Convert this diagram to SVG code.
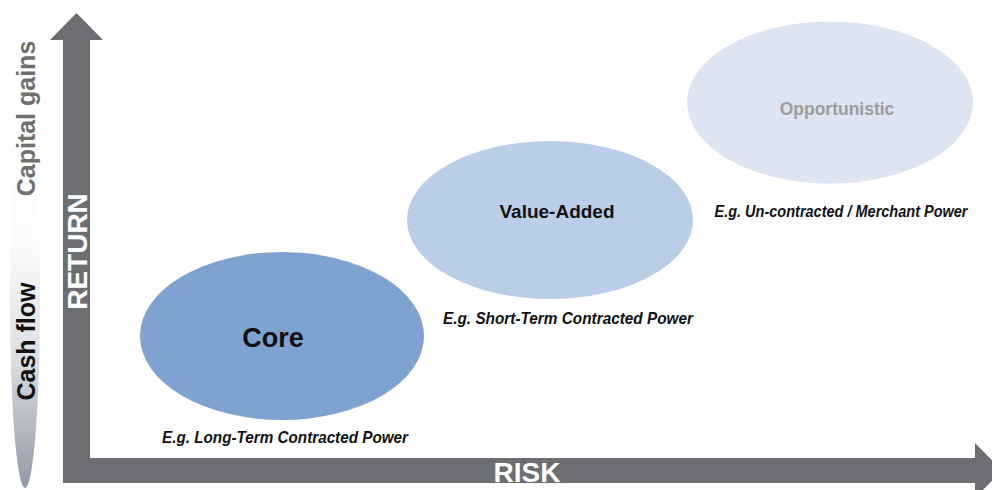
<svg xmlns="http://www.w3.org/2000/svg" width="992" height="490" viewBox="0 0 992 490">
  <defs>
    <linearGradient id="sideGrad" x1="0" y1="0" x2="0" y2="1">
      <stop offset="0" stop-color="#ffffff"/>
      <stop offset="0.35" stop-color="#fbfbfb"/>
      <stop offset="0.65" stop-color="#dcdfe5"/>
      <stop offset="1" stop-color="#9398a6"/>
    </linearGradient>
    <style>
      .axis { fill: #6d6e71; }
      .axisLabel { font-family: "Liberation Sans", Arial, sans-serif; font-weight: bold; fill: #ffffff; font-size: 28px; text-anchor: middle; }
      .side { font-family: "Liberation Sans", Arial, sans-serif; font-weight: bold; font-size: 25px; text-anchor: middle; }
      .title { font-family: "Liberation Sans", Arial, sans-serif; font-weight: bold; text-anchor: middle; }
      .eg { font-family: "Liberation Sans", Arial, sans-serif; font-weight: bold; font-style: italic; font-size: 17px; fill: #111111; text-anchor: middle; }
    </style>
  </defs>
  <rect width="992" height="490" fill="#ffffff"/>

  <g id="side-scale">
    <ellipse cx="25" cy="300" rx="15" ry="188" fill="url(#sideGrad)"/>
    <text class="side" fill="#6f6f70" transform="translate(35,118.5) rotate(-90)">Capital gains</text>
    <text class="side" fill="#111111" transform="translate(35,341.5) rotate(-90)">Cash flow</text>
  </g>

  <g id="axes">
    <path class="axis" d="M63,483 L63,40 L50,40 L76.5,13 L103,40 L90,40 L90,458 L975,458 L975,443 L1002,470.5 L975,498 L975,483 Z"/>
    <text class="axisLabel" transform="translate(87,251.5) rotate(-90)">RETURN</text>
    <text class="axisLabel" x="527" y="482">RISK</text>
  </g>

  <g id="opportunistic">
    <ellipse cx="830" cy="102.5" rx="143" ry="81" fill="#dde5f2"/>
    <text class="title" x="837" y="115" font-size="17.5" fill="#9c9c9c">Opportunistic</text>
    <text class="eg" x="841" y="217" font-size="16" textLength="253" lengthAdjust="spacingAndGlyphs" style="font-size:16px">E.g. Un-contracted / Merchant Power</text>
  </g>

  <g id="value-added">
    <ellipse cx="550" cy="220" rx="143" ry="79" fill="#bacee7"/>
    <text class="title" x="557" y="218" font-size="19" fill="#111111">Value-Added</text>
    <text class="eg" x="568" y="324" textLength="250" lengthAdjust="spacingAndGlyphs">E.g. Short-Term Contracted Power</text>
  </g>

  <g id="core">
    <ellipse cx="282" cy="336" rx="142" ry="84" fill="#7fa3d1"/>
    <text class="title" x="273" y="347" font-size="27" fill="#111111">Core</text>
    <text class="eg" x="285" y="443" textLength="246" lengthAdjust="spacingAndGlyphs">E.g. Long-Term Contracted Power</text>
  </g>
</svg>
